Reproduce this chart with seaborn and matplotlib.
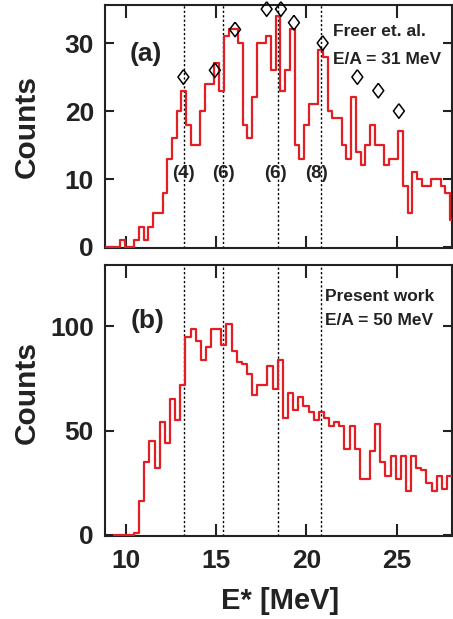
import numpy as np
import pandas as pd
import matplotlib
matplotlib.use("Agg")
import matplotlib.pyplot as plt
import seaborn as sns

# ---- panel (a): Freer et al., E/A = 31 MeV ----
a_first_edge = 9.685          # MeV, lower edge of first filled bin
a_bin_width = 0.261           # MeV
a_counts = [1, 0, 0, 1, 3, 1, 3, 5, 5, 8,
            13, 16, 20, 23, 18, 15, 15, 20, 24, 24,
            27, 23, 31, 32, 32, 30, 18, 16, 22, 30,
            30, 31, 26, 34, 23, 26, 32, 15, 13, 18,
            21, 21, 29, 28, 20, 19, 19, 15, 13, 22,
            14, 12, 15, 18, 15, 15, 12, 13, 13, 17,
            9, 5, 11, 10, 9, 9, 10, 10, 9, 8,
            4]

# published resonance positions (diamonds)
diamond_e = [13.19, 14.93, 16.05, 17.80, 18.59, 19.31, 20.90, 22.82, 23.98, 25.12]
diamond_counts = [25, 26, 32, 35, 35, 33, 30, 25, 23, 20]

# ---- panel (b): present work, E/A = 50 MeV ----
b_first_edge = 9.04
b_bin_width = 0.284
b_counts = [0, 0, 0, 0, 1, 16, 35, 45, 32, 54,
            44, 65, 55, 72, 95, 99, 93, 84, 90, 99,
            99, 91, 101, 88, 83, 82, 77, 67, 72, 72,
            81, 70, 84, 56, 68, 60, 66, 62, 59, 55,
            59, 56, 52, 54, 52, 41, 52, 41, 27, 27,
            40, 53, 35, 28, 38, 27, 38, 21, 38, 32,
            31, 25, 21, 28, 22, 28, 28]

# decay thresholds (dotted lines) and their labels
threshold_e = [13.2, 15.4, 18.4, 20.8]
threshold_text = ["(4)", "(6)", "(6)", "(8)"]
threshold_text_e = [13.19, 15.40, 18.30, 20.57]

x_ticks = [10, 15, 20, 25]
a_yticks = [0, 10, 20, 30]
b_yticks = [0, 50, 100]

RED = "#e31e24"
INK = "#222222"

sns.set_theme(style="ticks")
plt.rcParams["font.family"] = ["Liberation Sans", "DejaVu Sans"]
plt.rcParams["font.weight"] = "bold"
plt.rcParams["axes.linewidth"] = 1.5

W, H = 453, 619
fig = plt.figure(figsize=(W / 100, H / 100), dpi=100)


def px_axes(left, top, right, bottom):
    return fig.add_axes([left / W, 1 - bottom / H, (right - left) / W, (bottom - top) / H])


ax_a = px_axes(105, 5, 452, 248)
ax_b = px_axes(105, 265, 452, 536)


def draw_hist(ax, first_edge, width, counts, start):
    # leading empty bins run the zero line back to the given start energy
    pad_bins = int(round((first_edge - start) / width))
    vals = [0] * pad_bins + list(counts)
    edges = first_edge - pad_bins * width + width * np.arange(len(vals) + 1)
    df = pd.DataFrame({"E": 0.5 * (edges[:-1] + edges[1:]), "n": vals})
    sns.histplot(data=df, x="E", weights="n", bins=edges.tolist(), element="step",
                 fill=False, color=RED, linewidth=1.6, ax=ax, zorder=3)


draw_hist(ax_a, a_first_edge, a_bin_width, a_counts, start=8.85)
draw_hist(ax_b, b_first_edge, b_bin_width, b_counts, start=9.2)

diamond = [(0, 1), (0.75, 0), (0, -1), (-0.75, 0), (0, 1)]
ax_a.scatter(diamond_e, diamond_counts, marker=diamond, s=110,
             facecolors="none", edgecolors="black", linewidths=1.1,
             zorder=5, clip_on=False)

for ax in (ax_a, ax_b):
    for e in threshold_e:
        ax.axvline(e, color="black", lw=1.0, ls=(0, (1.6, 1.6)), zorder=1)
    ax.set_xlim(8.85, 28.06)
    ax.set_xticks(x_ticks)
    ax.tick_params(axis="x", direction="in", top=True, bottom=True, length=9,
                   width=1.5, labelsize=19, pad=9, color=INK, labelcolor=INK)
    ax.tick_params(axis="y", direction="in", left=True, right=True, length=6.5,
                   width=1.5, labelsize=19, pad=8, color=INK, labelcolor=INK)
    for s in ax.spines.values():
        s.set_visible(True)
        s.set_color(INK)
        s.set_linewidth(1.5)
    ax.set_ylabel("")
    ax.set_xlabel("")

ax_a.set_ylim(-0.15, 35.6)
ax_a.set_yticks(a_yticks)
ax_a.set_xticklabels([])
ax_b.set_ylim(-0.6, 129.5)
ax_b.set_yticks(b_yticks)

for lab, e in zip(threshold_text, threshold_text_e):
    ax_a.text(e, 10.8, lab, ha="center", va="center", fontsize=13.5, fontweight="bold",
              color=INK)

ax_a.text(0.118, 0.80, "(a)", transform=ax_a.transAxes, ha="center", va="center",
          fontsize=19, fontweight="bold", color=INK)
ax_b.text(0.1225, 0.793, "(b)", transform=ax_b.transAxes, ha="center", va="center",
          fontsize=19, fontweight="bold", color=INK)

ax_a.text(0.657, 0.889, "Freer et. al.", transform=ax_a.transAxes, ha="left", va="center",
          fontsize=12.5, fontweight="bold", color=INK)
ax_a.text(0.657, 0.774, "E/A = 31 MeV", transform=ax_a.transAxes, ha="left", va="center",
          fontsize=12.5, fontweight="bold", color=INK)
ax_b.text(0.634, 0.882, "Present work", transform=ax_b.transAxes, ha="left", va="center",
          fontsize=12.5, fontweight="bold", color=INK)
ax_b.text(0.634, 0.797, "E/A = 50 MeV", transform=ax_b.transAxes, ha="left", va="center",
          fontsize=12.5, fontweight="bold", color=INK)

fig.text(27 / W, 1 - 127 / H, "Counts", rotation=90, ha="center", va="center",
         fontsize=21.5, fontweight="bold", color=INK)
fig.text(27 / W, 1 - 393 / H, "Counts", rotation=90, ha="center", va="center",
         fontsize=21.5, fontweight="bold", color=INK)
fig.text(280 / W, 1 - 601 / H, "E* [MeV]", ha="center", va="center",
         fontsize=21, fontweight="bold", color=INK)

fig.savefig("out.png", dpi=100)
